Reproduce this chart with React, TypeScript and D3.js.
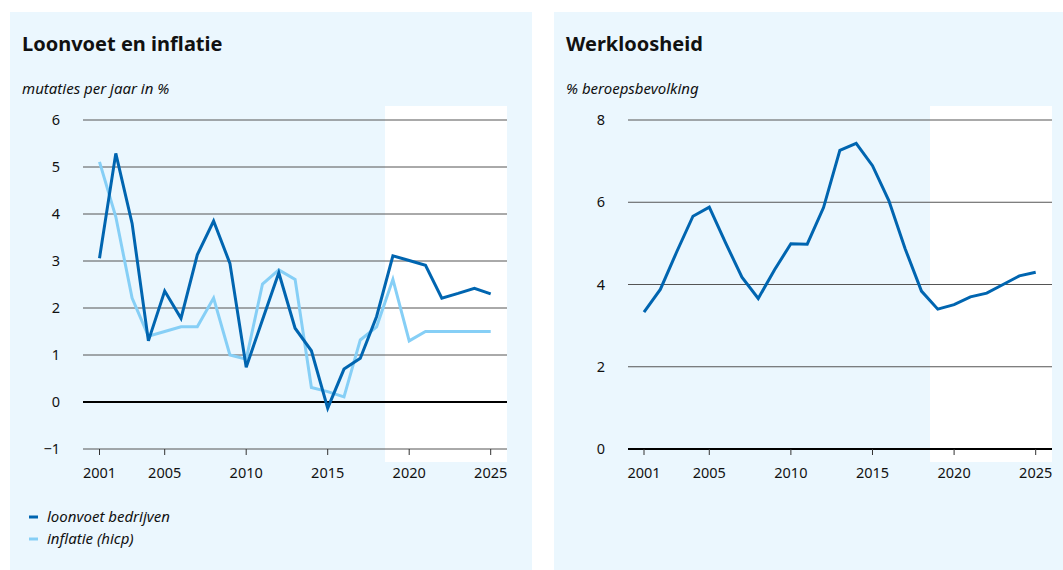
import React from "react";
import * as d3 from "d3";

const years = d3.range(2001, 2026);
const loonvoet = [3.06, 5.29, 3.8, 1.3, 2.36, 1.78, 3.13, 3.85, 2.95, 0.74, 1.75, 2.75, 1.57, 1.09, -0.13, 0.7, 0.93, 1.82, 3.11, 3.01, 2.91, 2.21, 2.31, 2.42, 2.3];
const inflatie = [5.11, 3.94, 2.21, 1.4, 1.5, 1.6, 1.6, 2.21, 1.0, 0.91, 2.51, 2.81, 2.61, 0.31, 0.22, 0.11, 1.32, 1.6, 2.61, 1.3, 1.5, 1.5, 1.5, 1.5, 1.5];
const werkloosheid = [3.33, 3.88, 4.79, 5.66, 5.88, 5.01, 4.18, 3.66, 4.36, 4.99, 4.98, 5.87, 7.26, 7.43, 6.89, 6.04, 4.87, 3.84, 3.4, 3.51, 3.7, 3.79, 4.0, 4.21, 4.3];
const leftTicks = [-1, 0, 1, 2, 3, 4, 5, 6];
const rightTicks = [0, 2, 4, 6, 8];
const xTickYears = [2001, 2005, 2010, 2015, 2020, 2025];
const legendItems = ["loonvoet bedrijven", "inflatie (hicp)"];

const DARK = "#0065B0";
const LIGHT = "#86CFF6";
const PANEL = "#EBF7FE";
const FONT = "'Noto Sans', 'Open Sans', sans-serif";

export default function App() {
  const xL = d3.scaleLinear().domain([2001, 2025]).range([99.5, 490.7]);
  const yL = d3.scaleLinear().domain([-1, 6]).range([449, 120]);
  const xR = d3.scaleLinear().domain([2001, 2025]).range([644, 1035.7]);
  const yR = d3.scaleLinear().domain([0, 8]).range([449, 120]);

  const lineL = (vals: number[]) =>
    d3.line<number>().x((_, i) => xL(years[i])).y((v) => yL(v))(vals) || "";
  const lineR = (vals: number[]) =>
    d3.line<number>().x((_, i) => xR(years[i])).y((v) => yR(v))(vals) || "";

  return (
    <svg
      width={1063}
      height={570}
      style={{ position: "fixed", left: 0, top: 0, background: "#fff" }}
      fontFamily={FONT}
    >
      {/* panels */}
      <rect x={10} y={12} width={522} height={558} fill={PANEL} />
      <rect x={554} y={12} width={509} height={558} fill={PANEL} />

      {/* left panel */}
      <text x={22} y={51} fontSize={20} fontWeight={700} fill="#111">Loonvoet en inflatie</text>
      <text x={22} y={94} fontSize={15} fontStyle="italic" fill="#111">mutaties per jaar in %</text>
      <rect x={385} y={106} width={122} height={356} fill="#fff" />
      {leftTicks.map((t) => (
        <g key={t}>
          <line
            x1={83}
            x2={507}
            y1={yL(t)}
            y2={yL(t)}
            stroke={t === 0 ? "#000" : "#555"}
            strokeWidth={t === 0 ? 2 : 1}
          />
          <text x={60} y={yL(t)} dy="0.35em" textAnchor="end" fontSize={14.5} fill="#111">
            {t < 0 ? "\u2212" + Math.abs(t) : t}
          </text>
        </g>
      ))}
      {xTickYears.map((yr) => (
        <g key={yr}>
          <line x1={xL(yr)} x2={xL(yr)} y1={449} y2={455} stroke="#333" strokeWidth={1} />
          <text x={xL(yr)} y={478} textAnchor="middle" fontSize={14.5} fill="#111">{yr}</text>
        </g>
      ))}
      <path d={lineL(inflatie)} fill="none" stroke={LIGHT} strokeWidth={3} strokeLinejoin="miter" />
      <path d={lineL(loonvoet)} fill="none" stroke={DARK} strokeWidth={3} strokeLinejoin="miter" />
      {legendItems.map((name, i) => (
        <g key={name}>
          <line x1={29} x2={38} y1={517 + i * 22} y2={517 + i * 22} stroke={i === 0 ? DARK : LIGHT} strokeWidth={3} />
          <text x={47} y={517 + i * 22} dy="0.35em" fontSize={15} fontStyle="italic" fill="#111">{name}</text>
        </g>
      ))}

      {/* right panel */}
      <text x={566} y={51} fontSize={20} fontWeight={700} fill="#111">Werkloosheid</text>
      <text x={566} y={94} fontSize={15} fontStyle="italic" fill="#111">% beroepsbevolking</text>
      <rect x={930} y={106} width={122} height={356} fill="#fff" />
      {rightTicks.map((t) => (
        <g key={t}>
          <line
            x1={628}
            x2={1052}
            y1={yR(t)}
            y2={yR(t)}
            stroke={t === 0 ? "#000" : "#555"}
            strokeWidth={t === 0 ? 2 : 1}
          />
          <text x={605} y={yR(t)} dy="0.35em" textAnchor="end" fontSize={14.5} fill="#111">{t}</text>
        </g>
      ))}
      {xTickYears.map((yr) => (
        <g key={yr}>
          <line x1={xR(yr)} x2={xR(yr)} y1={449} y2={455} stroke="#333" strokeWidth={1} />
          <text x={xR(yr)} y={478} textAnchor="middle" fontSize={14.5} fill="#111">{yr}</text>
        </g>
      ))}
      <path d={lineR(werkloosheid)} fill="none" stroke={DARK} strokeWidth={3} strokeLinejoin="miter" />
    </svg>
  );
}
